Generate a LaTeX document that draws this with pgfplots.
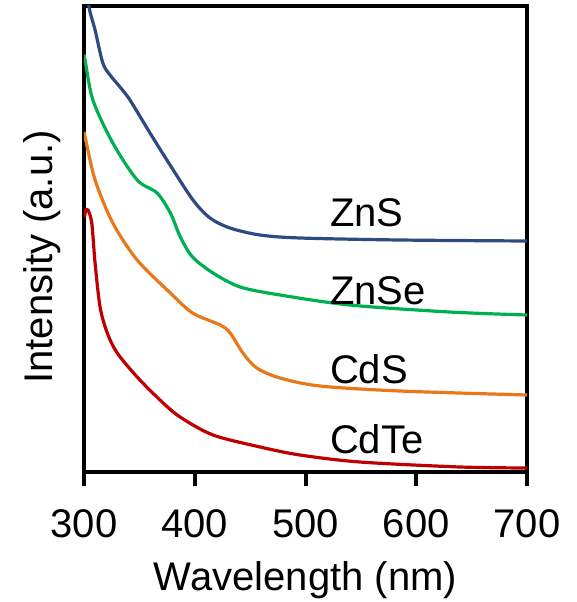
\documentclass[border=0pt]{standalone}
\usepackage{pgfplots}
\pgfplotsset{compat=1.18}
\usepackage{fontspec}
\setmainfont{Liberation Sans}

\definecolor{cZnS}{HTML}{2E4A82}
\definecolor{cZnSe}{HTML}{00B050}
\definecolor{cCdS}{HTML}{E8781A}
\definecolor{cCdTe}{HTML}{C00000}

\begin{document}
\fontsize{40}{48}\selectfont
\begin{tikzpicture}
\path[use as bounding box] (-84pt,-130pt) rectangle (493pt,472pt);
\begin{axis}[
  at={(0pt,0pt)}, anchor=south west,
  scale only axis,
  width=443pt, height=466pt,
  xmin=300, xmax=700, ymin=0, ymax=466,
  xtick={300,400,500,600,700},
  ytick=\empty,
  tick align=outside,
  major tick length=14pt,
  xtick pos=bottom,
  axis line style={line width=4pt},
  every outer x axis line/.append style={line width=4pt},
  every outer y axis line/.append style={line width=4pt},
  every tick/.style={line width=4pt, black},
  /pgf/number format/assume math mode=true,
  /pgf/number format/1000 sep={},
  ticklabel style={font=\fontsize{40}{48}\selectfont},
  xticklabel style={anchor=base, yshift=-51pt},
  label style={font=\fontsize{40}{48}\selectfont},
  xlabel={Wavelength (nm)},
  xlabel style={at={(axis description cs:0.5,0)}, anchor=base, yshift=-118pt},
  ylabel={Intensity (a.u.)},
  ylabel style={at={(axis description cs:-0.07,0.4614)}, anchor=base},
  clip=true,
  every axis plot/.append style={line width=3.2pt, smooth, tension=0.5},
]
% ZnS
\addplot[cZnS] coordinates {
  (301,500) (304.5,465) (310,442) (317,409) (323.5,397) (332.5,385)
  (341.5,372) (359.6,339) (377.7,307) (398.4,272) (413.8,254)
  (431.8,244) (458.9,237) (495,234) (585,232) (700,231)
};
% ZnSe
\addplot[cZnSe] coordinates {
  (300,417) (301,412) (308,372) (326,329) (348,292) (366,279)
  (378,259) (387,235) (398,215) (416.5,199) (441,185) (477,177)
  (540,167) (630,160) (700,157)
};
% CdS
\addplot[cCdS] coordinates {
  (300,340) (301,335) (310,292) (326,249) (348,212) (378,179)
  (398,159) (423,147) (432,139) (443.5,119) (456,104) (477,94)
  (513,86) (585,81) (700,77)
};
% CdTe
\addplot[cCdTe] coordinates {
  (300.5,255) (301.5,261) (303.6,262) (307,249) (310,209) (314.5,165)
  (321,139) (330,119) (348,95) (368.6,72) (386.7,55) (416.5,37)
  (459,25) (495,17) (549,10) (639.5,5) (700,4)
};
\node[anchor=base west, inner sep=0pt] at (axis cs:522,245) {ZnS};
\node[anchor=base west, inner sep=0pt] at (axis cs:522,167) {ZnSe};
\node[anchor=base west, inner sep=0pt] at (axis cs:522,89) {CdS};
\node[anchor=base west, inner sep=0pt] at (axis cs:522,19) {CdTe};
\end{axis}
\end{tikzpicture}
\end{document}
